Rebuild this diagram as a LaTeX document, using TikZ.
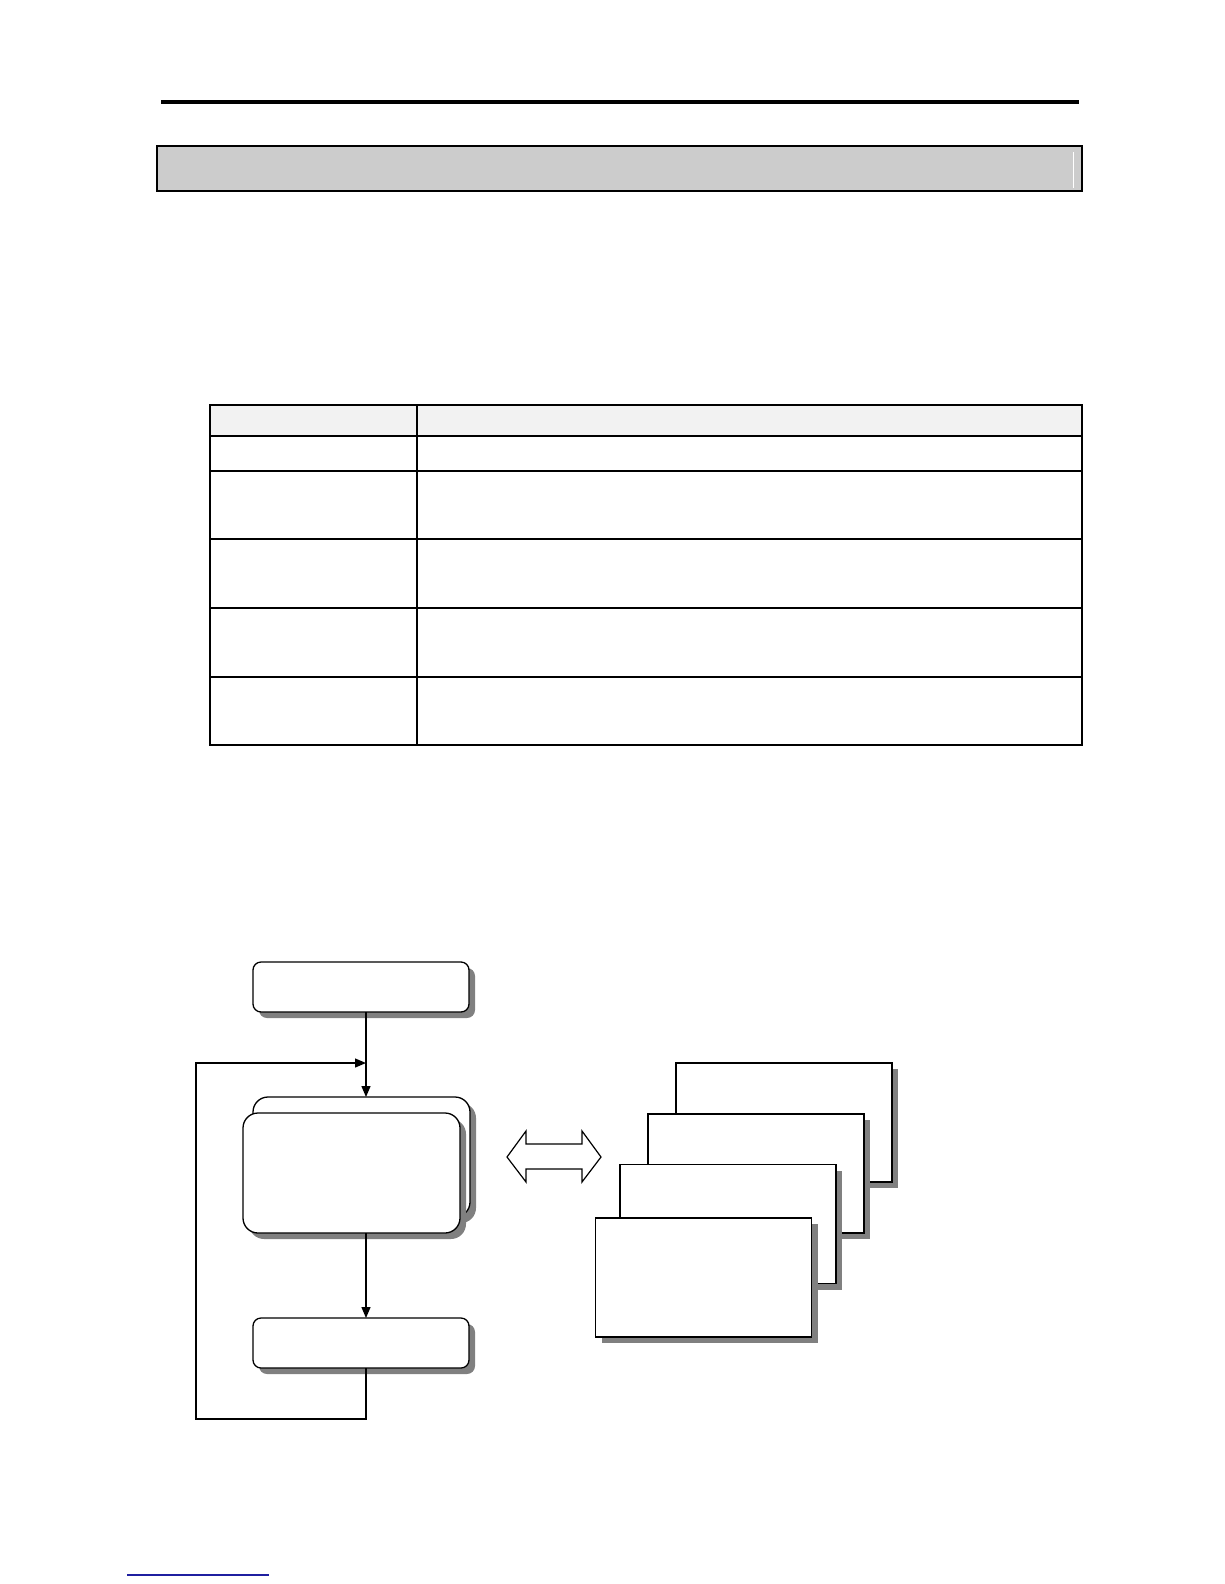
\documentclass[tikz,border=0pt]{standalone}
\usetikzlibrary{shadows,arrows.meta}
\definecolor{barfill}{HTML}{CCCCCC}
\definecolor{headfill}{HTML}{F2F2F2}
\definecolor{shadowgray}{HTML}{808080}
\definecolor{linkblue}{HTML}{1F1FA0}
\tikzset{
  shad/.style={drop shadow={shadow xshift=6pt,shadow yshift=-6pt,fill=shadowgray,opacity=1}},
  rbox/.style={draw=black,fill=white,line width=1.3pt,rounded corners=8pt,shad,minimum width=216pt,minimum height=50pt,inner sep=0pt,outer sep=0pt},
  bigrbox/.style={rbox,rounded corners=15pt,minimum width=217pt,minimum height=120pt},
  page/.style={draw=black,fill=white,line width=1.3pt,shad,minimum width=216pt,minimum height=119pt,inner sep=0pt,outer sep=0pt},
  flow/.style={line width=1.4pt,-{Triangle[length=11pt,width=9pt]}},
  tline/.style={line width=1.3pt},
}
\begin{document}
\begin{tikzpicture}[x=1pt,y=-1pt]
\useasboundingbox (0,0) rectangle (1224,1584);
% top rule
\fill[black] (161,100) rectangle (1079,104);
% gray title bar
\draw[fill=barfill,line width=1.3pt] (157,146) rectangle (1082,191);
\draw[white,line width=1pt] (1073,152) -- (1073,188);
% table
\fill[headfill] (210,405) rectangle (1082,436);
\draw[tline] (210,405) rectangle (1082,745);
\draw[tline] (417,405) -- (417,745);
\foreach \yy in {436,471,539,608,677}{\draw[tline] (210,\yy) -- (1082,\yy);}
% flowchart
\node[rbox] (b1) at (361,987) {};
\node[bigrbox] (b2back) at (361.5,1157) {};
\node[bigrbox] (b2front) at (351.5,1173) {};
\node[rbox] (b3) at (361,1343) {};
\coordinate (ax) at (366,0);
\coordinate (fbl) at (196,1419);
\coordinate (fbt) at (196,1063);
\draw[flow] (b1.south -| ax) -- (b2back.north -| ax);
\draw[flow] (b2front.south -| ax) -- (b3.north -| ax);
\draw[line width=1.2pt,-{Triangle[length=11pt,width=9pt]}] (b3.south -| ax) -- (ax |- fbl) -- (fbl) -- (fbt) -- (ax |- fbt);
% double arrow
\draw[line width=1.2pt,fill=white,line join=miter]
  (507,1157) -- (526,1131) -- (526,1144) -- (582,1144) -- (582,1131) -- (601,1157)
  -- (582,1182) -- (582,1169) -- (526,1169) -- (526,1182) -- cycle;
% stacked pages
\node[page] (p4) at (784,1122.5) {};
\node[page] (p3) at (756,1173.5) {};
\node[page] (p2) at (728,1224) {};
\node[page] (p1) at (703.5,1277.5) {};
% bottom link line
\draw[linkblue,line width=1.2pt] (127,1575) -- (269,1575);
\end{tikzpicture}
\end{document}
